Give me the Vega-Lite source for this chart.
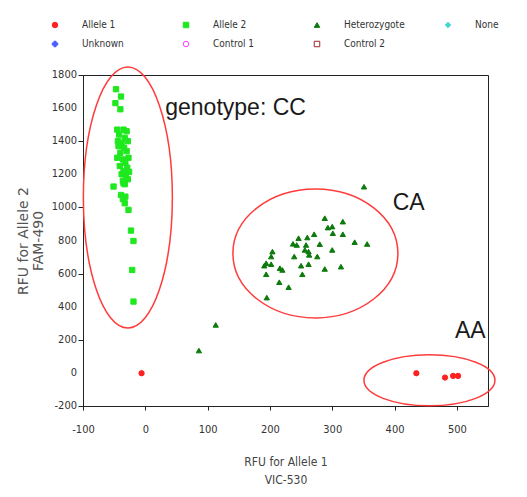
{
  "$schema": "https://vega.github.io/schema/vega-lite/v6.json",
  "width": 405,
  "height": 331,
  "autosize": {"type": "none"},
  "padding": {"left": 83, "top": 75, "right": 39, "bottom": 91},
  "background": "white",
  "datasets": {
    "calls": [
      {"x": -47, "y": 1714, "call": "Allele 2"},
      {"x": -39, "y": 1670, "call": "Allele 2"},
      {"x": -48, "y": 1630, "call": "Allele 2"},
      {"x": -40, "y": 1593, "call": "Allele 2"},
      {"x": -45, "y": 1470, "call": "Allele 2"},
      {"x": -35, "y": 1470, "call": "Allele 2"},
      {"x": -30, "y": 1460, "call": "Allele 2"},
      {"x": -42, "y": 1440, "call": "Allele 2"},
      {"x": -33, "y": 1420, "call": "Allele 2"},
      {"x": -44, "y": 1400, "call": "Allele 2"},
      {"x": -38, "y": 1390, "call": "Allele 2"},
      {"x": -28, "y": 1400, "call": "Allele 2"},
      {"x": -43, "y": 1370, "call": "Allele 2"},
      {"x": -34, "y": 1360, "call": "Allele 2"},
      {"x": -30, "y": 1340, "call": "Allele 2"},
      {"x": -40, "y": 1330, "call": "Allele 2"},
      {"x": -45, "y": 1300, "call": "Allele 2"},
      {"x": -27, "y": 1300, "call": "Allele 2"},
      {"x": -36, "y": 1290, "call": "Allele 2"},
      {"x": -32, "y": 1270, "call": "Allele 2"},
      {"x": -41, "y": 1250, "call": "Allele 2"},
      {"x": -29, "y": 1240, "call": "Allele 2"},
      {"x": -35, "y": 1220, "call": "Allele 2"},
      {"x": -26, "y": 1215, "call": "Allele 2"},
      {"x": -38, "y": 1200, "call": "Allele 2"},
      {"x": -31, "y": 1190, "call": "Allele 2"},
      {"x": -28, "y": 1170, "call": "Allele 2"},
      {"x": -36, "y": 1160, "call": "Allele 2"},
      {"x": -33, "y": 1140, "call": "Allele 2"},
      {"x": -51, "y": 1126, "call": "Allele 2"},
      {"x": -35, "y": 1146, "call": "Allele 2"},
      {"x": -39, "y": 1075, "call": "Allele 2"},
      {"x": -32, "y": 1065, "call": "Allele 2"},
      {"x": -36, "y": 1050, "call": "Allele 2"},
      {"x": -33, "y": 1025, "call": "Allele 2"},
      {"x": -27, "y": 985, "call": "Allele 2"},
      {"x": -23, "y": 860, "call": "Allele 2"},
      {"x": -19, "y": 797, "call": "Allele 2"},
      {"x": -21, "y": 622, "call": "Allele 2"},
      {"x": -19, "y": 431, "call": "Allele 2"},
      {"x": 351, "y": 1125, "call": "Heterozygote"},
      {"x": 288, "y": 935, "call": "Heterozygote"},
      {"x": 317, "y": 914, "call": "Heterozygote"},
      {"x": 293, "y": 878, "call": "Heterozygote"},
      {"x": 300, "y": 884, "call": "Heterozygote"},
      {"x": 301, "y": 844, "call": "Heterozygote"},
      {"x": 317, "y": 838, "call": "Heterozygote"},
      {"x": 271, "y": 838, "call": "Heterozygote"},
      {"x": 336, "y": 790, "call": "Heterozygote"},
      {"x": 356, "y": 779, "call": "Heterozygote"},
      {"x": 246, "y": 814, "call": "Heterozygote"},
      {"x": 260, "y": 818, "call": "Heterozygote"},
      {"x": 237, "y": 780, "call": "Heterozygote"},
      {"x": 243, "y": 773, "call": "Heterozygote"},
      {"x": 258, "y": 773, "call": "Heterozygote"},
      {"x": 280, "y": 778, "call": "Heterozygote"},
      {"x": 256, "y": 743, "call": "Heterozygote"},
      {"x": 262, "y": 733, "call": "Heterozygote"},
      {"x": 300, "y": 743, "call": "Heterozygote"},
      {"x": 263, "y": 713, "call": "Heterozygote"},
      {"x": 276, "y": 703, "call": "Heterozygote"},
      {"x": 239, "y": 703, "call": "Heterozygote"},
      {"x": 204, "y": 733, "call": "Heterozygote"},
      {"x": 202, "y": 703, "call": "Heterozygote"},
      {"x": 194, "y": 663, "call": "Heterozygote"},
      {"x": 202, "y": 657, "call": "Heterozygote"},
      {"x": 191, "y": 648, "call": "Heterozygote"},
      {"x": 216, "y": 633, "call": "Heterozygote"},
      {"x": 220, "y": 622, "call": "Heterozygote"},
      {"x": 250, "y": 648, "call": "Heterozygote"},
      {"x": 262, "y": 657, "call": "Heterozygote"},
      {"x": 252, "y": 596, "call": "Heterozygote"},
      {"x": 288, "y": 628, "call": "Heterozygote"},
      {"x": 314, "y": 642, "call": "Heterozygote"},
      {"x": 194, "y": 596, "call": "Heterozygote"},
      {"x": 215, "y": 548, "call": "Heterozygote"},
      {"x": 230, "y": 518, "call": "Heterozygote"},
      {"x": 195, "y": 455, "call": "Heterozygote"},
      {"x": 113, "y": 290, "call": "Heterozygote"},
      {"x": 86, "y": 135, "call": "Heterozygote"},
      {"x": -6, "y": -2, "call": "Allele 1"},
      {"x": 435, "y": -2, "call": "Allele 1"},
      {"x": 481, "y": -28, "call": "Allele 1"},
      {"x": 494, "y": -18, "call": "Allele 1"},
      {"x": 502, "y": -18, "call": "Allele 1"}
    ]
  },
  "layer": [
    {
      "mark": {"type": "rule", "color": "#f6c4c4", "strokeWidth": 1},
      "encoding": {
        "x": {
          "datum": -12, "type": "quantitative",
          "scale": {"domain": [-100, 550], "nice": false, "zero": false},
          "axis": {
            "title": ["RFU for Allele 1", "VIC-530"],
            "values": [-100, -75, -50, -25, 0, 25, 50, 75, 100, 125, 150, 175, 200, 225, 250, 275, 300, 325, 350, 375, 400, 425, 450, 475, 500, 525, 550],
            "labelExpr": "datum.value % 100 === 0 ? '' + datum.value : ''",
            "grid": false, "tickSize": 4, "labelPadding": 13, "labelOverlap": false, "labelFlush": false, "labelBound": false,
            "labelFont": "DejaVu Sans Condensed, Liberation Sans Narrow, Liberation Sans", "labelFontSize": 11, "labelColor": "#333333",
            "domainColor": "#222222", "tickColor": "#222222",
            "titleFont": "DejaVu Sans Condensed, Liberation Sans Narrow, Liberation Sans", "titleFontSize": 12, "titleFontWeight": "normal", "titleColor": "#444444",
            "titlePadding": 22, "titleLineHeight": 18
          }
        }
      }
    },
    {
      "mark": {"type": "rule", "color": "#5a5aff", "strokeWidth": 1},
      "encoding": {
        "y": {
          "datum": 40, "type": "quantitative",
          "scale": {"domain": [-200, 1800], "nice": false, "zero": false},
          "axis": {
            "title": ["RFU for Allele 2", "FAM-490"],
            "values": [-200, -100, 0, 100, 200, 300, 400, 500, 600, 700, 800, 900, 1000, 1100, 1200, 1300, 1400, 1500, 1600, 1700, 1800],
            "labels": false,
            "grid": false, "tickSize": 5,
            "domainColor": "#222222", "tickColor": "#222222",
            "titleFont": "DejaVu Sans", "titleFontSize": 14, "titleFontWeight": "normal", "titleColor": "#555555",
            "titlePadding": 32, "titleLineHeight": 15
          }
        }
      }
    },
    {
      "data": {"values": [{"v": -200, "t": "-200"}, {"v": 0, "t": "0"}, {"v": 200, "t": "200"}, {"v": 400, "t": "400"}, {"v": 600, "t": "600"}, {"v": 800, "t": "800"}, {"v": 1000, "t": "1000"}, {"v": 1200, "t": "1200"}, {"v": 1400, "t": "1400"}, {"v": 1600, "t": "1600"}, {"v": 1800, "t": "1800"}]},
      "mark": {"type": "text", "align": "right", "baseline": "middle", "xOffset": -6, "clip": false, "font": "DejaVu Sans Condensed, Liberation Sans Narrow, Liberation Sans", "fontSize": 11, "color": "#333333"},
      "encoding": {
        "x": {"datum": -100, "type": "quantitative"},
        "y": {"field": "v", "type": "quantitative"},
        "text": {"field": "t"}
      }
    },
    {
      "data": {"values": [{"x": -28, "y": 1060}]},
      "mark": {"type": "point", "filled": false, "size": 4, "stroke": "#ff3b3b", "strokeWidth": 1.5, "opacity": 1,
        "shape": "M-44.5,0A44.5,130.5,0,1,0,44.5,0A44.5,130.5,0,1,0,-44.5,0Z"},
      "encoding": {"x": {"field": "x", "type": "quantitative"}, "y": {"field": "y", "type": "quantitative"}}
    },
    {
      "data": {"values": [{"x": 273, "y": 722}]},
      "mark": {"type": "point", "filled": false, "size": 4, "stroke": "#ff3b3b", "strokeWidth": 1.5, "opacity": 1,
        "shape": "M-82.5,0A82.5,64.5,0,1,0,82.5,0A82.5,64.5,0,1,0,-82.5,0Z"},
      "encoding": {"x": {"field": "x", "type": "quantitative"}, "y": {"field": "y", "type": "quantitative"}}
    },
    {
      "data": {"values": [{"x": 456, "y": -45}]},
      "mark": {"type": "point", "filled": false, "size": 4, "stroke": "#ff3b3b", "strokeWidth": 1.5, "opacity": 1,
        "shape": "M-65.5,0A65.5,25.5,0,1,0,65.5,0A65.5,25.5,0,1,0,-65.5,0Z"},
      "encoding": {"x": {"field": "x", "type": "quantitative"}, "y": {"field": "y", "type": "quantitative"}}
    },
    {
      "data": {"name": "calls"},
      "mark": {"type": "point", "size": 28, "strokeWidth": 1, "opacity": 1},
      "encoding": {
        "x": {"field": "x", "type": "quantitative"},
        "y": {"field": "y", "type": "quantitative"},
        "shape": {
          "field": "call", "type": "nominal",
          "scale": {
            "domain": ["Allele 1", "Unknown", "Allele 2", "Control 1", "Heterozygote", "Control 2", "None"],
            "range": ["circle", "cross", "square", "circle", "triangle-up", "square", "diamond"]
          },
          "legend": {"title": null, "orient": "none", "legendX": -33, "legendY": -55, "columns": 4, "gridAlign": "all", "columnPadding": 38, "rowPadding": 9, "labelOffset": 22, "symbolSize": 30, "padding": 0}
        },
        "fill": {
          "field": "call", "type": "nominal",
          "scale": {
            "domain": ["Allele 1", "Unknown", "Allele 2", "Control 1", "Heterozygote", "Control 2", "None"],
            "range": ["#ff2020", "#4a5cff", "#1fe81f", "#ffffff", "#0b7a0b", "#ffffff", "#3fd8d0"]
          },
          "legend": {"title": null, "orient": "none", "legendX": -33, "legendY": -55, "columns": 4, "gridAlign": "all", "columnPadding": 38, "rowPadding": 9, "labelOffset": 22, "symbolSize": 30, "padding": 0}
        },
        "stroke": {
          "field": "call", "type": "nominal",
          "scale": {
            "domain": ["Allele 1", "Unknown", "Allele 2", "Control 1", "Heterozygote", "Control 2", "None"],
            "range": ["#ff2020", "#4a5cff", "#1fe81f", "#ff40ff", "#0b7a0b", "#a02828", "#3fd8d0"]
          },
          "legend": {"title": null, "orient": "none", "legendX": -33, "legendY": -55, "columns": 4, "gridAlign": "all", "columnPadding": 38, "rowPadding": 9, "labelOffset": 22, "symbolSize": 30, "padding": 0}
        }
      }
    },
    {
      "data": {"values": [{"x": 32, "y": 1559, "label": "genotype: CC"}, {"x": 397, "y": 985, "label": "CA"}, {"x": 497, "y": 211, "label": "AA"}]},
      "mark": {"type": "text", "align": "left", "baseline": "alphabetic", "font": "Liberation Sans", "fontSize": 23, "color": "#1a1a1a"},
      "encoding": {
        "x": {"field": "x", "type": "quantitative"},
        "y": {"field": "y", "type": "quantitative"},
        "text": {"field": "label"}
      }
    }
  ],
  "config": {
    "view": {"stroke": "#222222", "strokeWidth": 1},
    "axis": {"labelOverlap": false},
    "legend": {"labelFont": "DejaVu Sans Condensed, Liberation Sans Narrow, Liberation Sans", "labelFontSize": 10, "labelColor": "#333333", "symbolStrokeWidth": 1}
  }
}
